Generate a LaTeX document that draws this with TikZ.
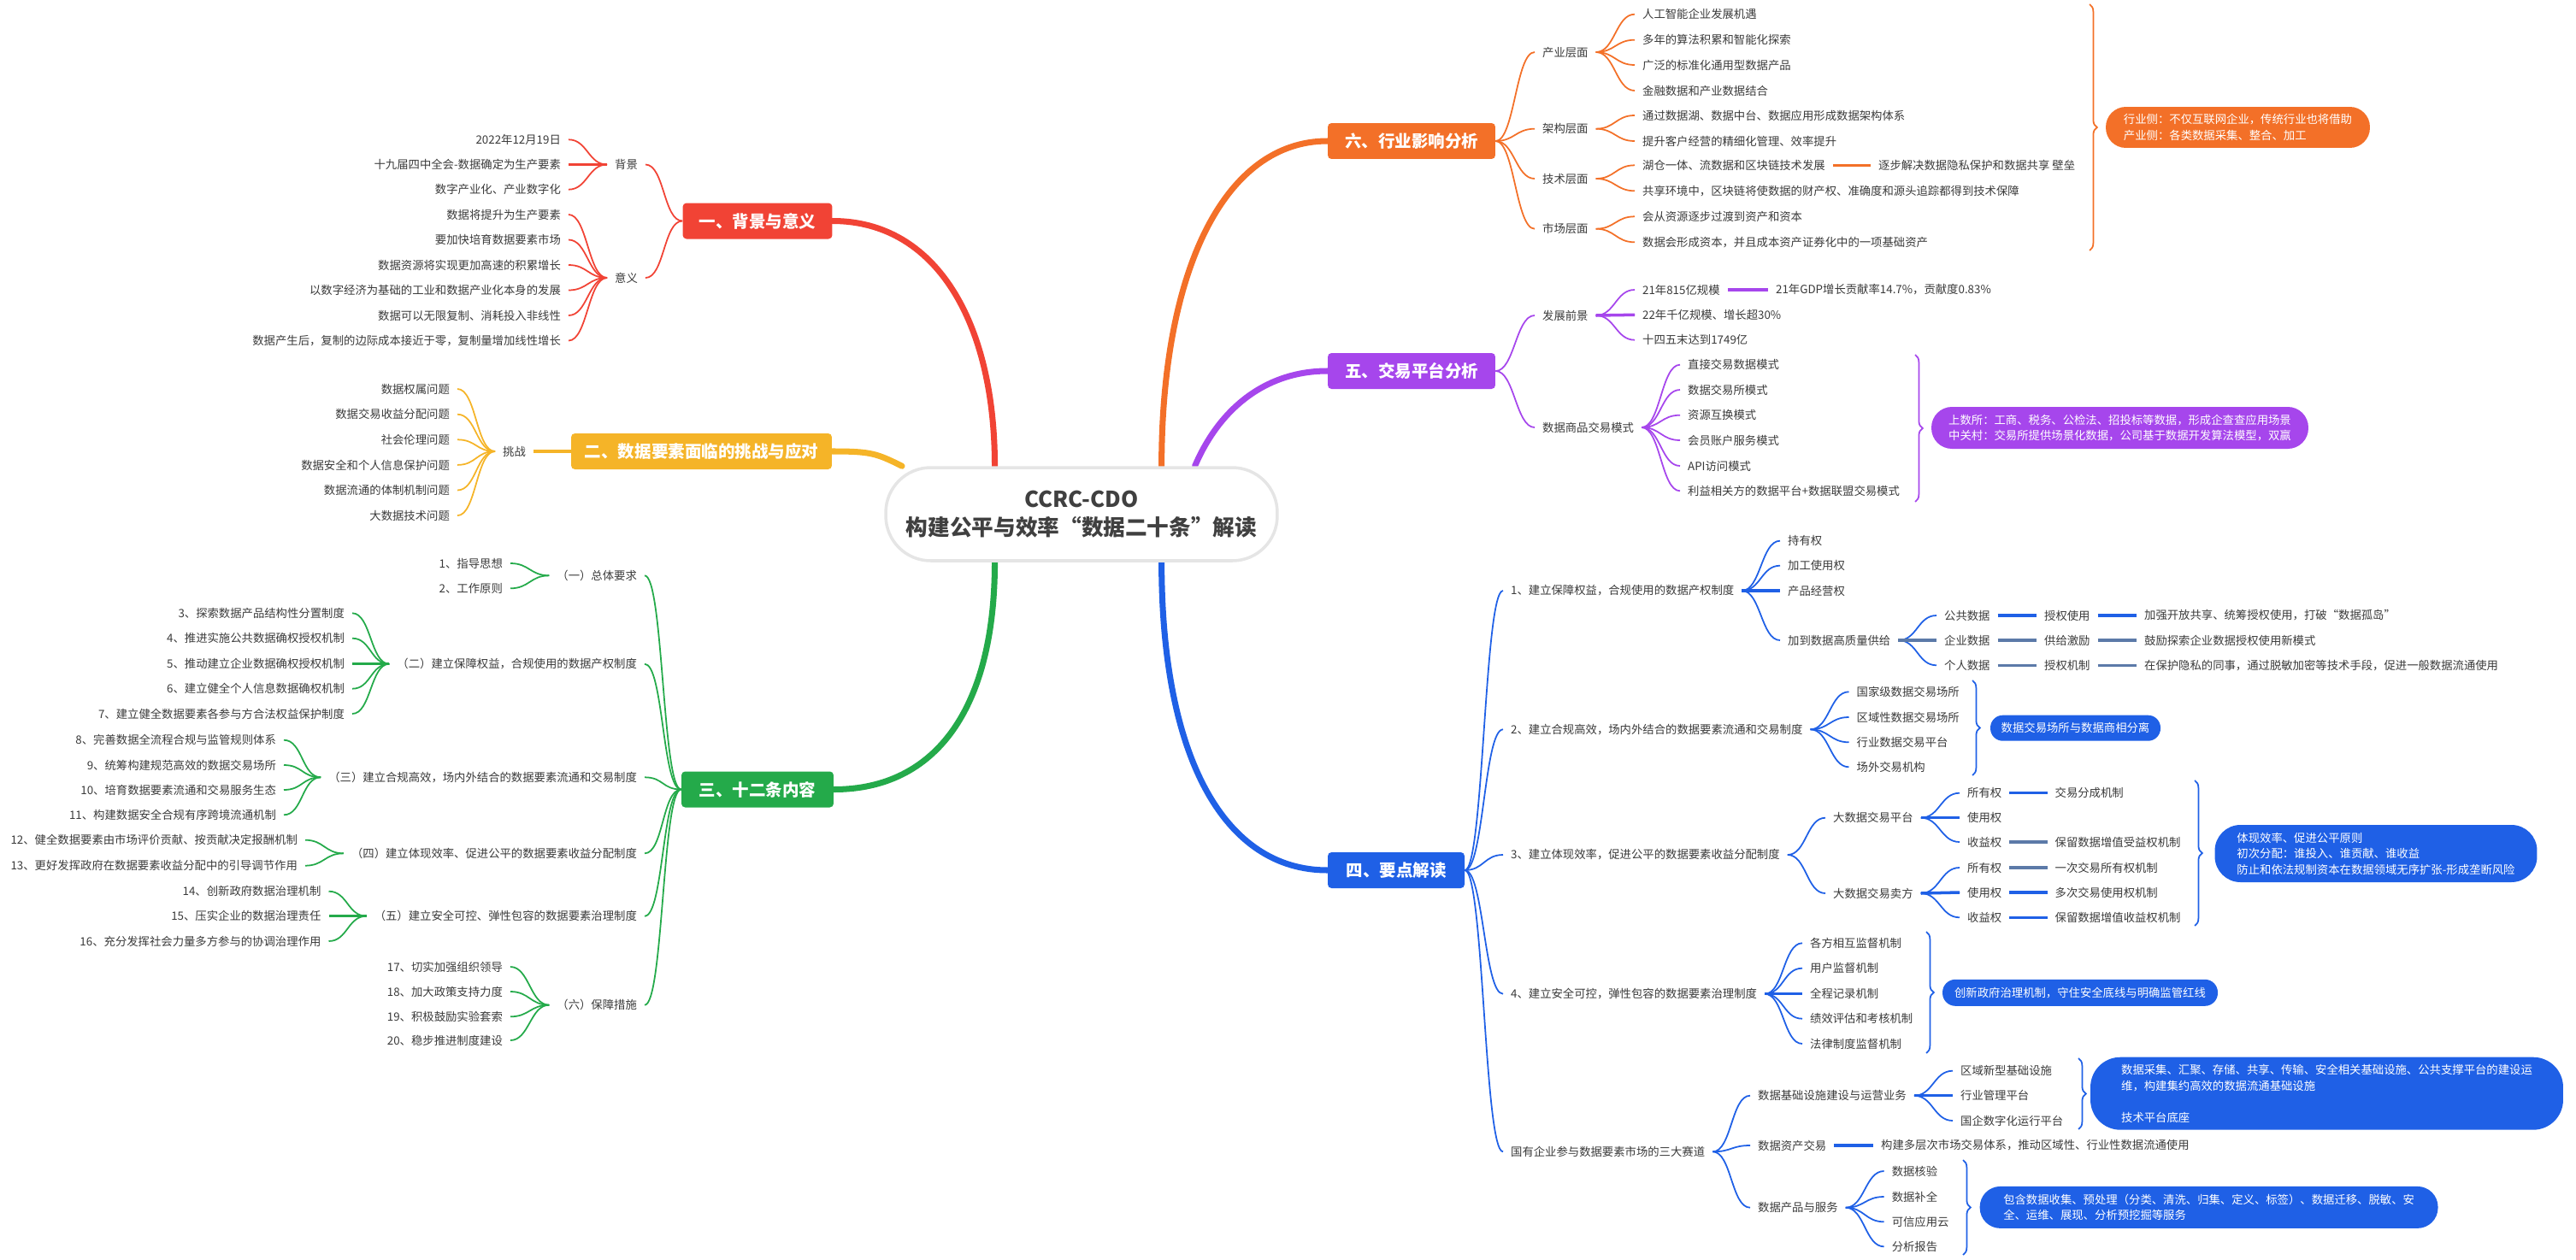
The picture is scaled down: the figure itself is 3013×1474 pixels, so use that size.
\documentclass[tikz,border=0pt]{standalone}
\usepackage{fontspec}
\setmainfont{Noto Sans CJK SC}
\usetikzlibrary{positioning,backgrounds,decorations.pathreplacing}
\definecolor{cRed}{RGB}{241,67,53}
\definecolor{cYel}{RGB}{245,180,40}
\definecolor{cGrn}{RGB}{36,170,74}
\definecolor{cOrg}{RGB}{243,112,40}
\definecolor{cPur}{RGB}{166,70,236}
\definecolor{cBlu}{RGB}{31,96,230}
\definecolor{cSlt}{RGB}{92,122,168}
\definecolor{cTxt}{RGB}{58,58,58}

\begin{document}
\begin{tikzpicture}[x=0.02cm, y=-0.02cm,
    root/.style={draw=black!10, line width=2pt, fill=white, rounded corners=1.05cm, minimum width=9.16cm, minimum height=2.18cm, align=center, text=black!75, font=\fontsize{14.6}{18.8}\selectfont\bfseries},
    topic/.style={rounded corners=2.5pt, minimum height=0.84cm, inner sep=0pt, text=white, font=\fontsize{11.1}{13}\selectfont\bfseries},
    leaf/.style={inner xsep=5pt, inner ysep=2pt, text=cTxt, font=\fontsize{7.6}{10.5}\selectfont},
    note/.style={align=left, inner sep=0pt, text=white, font=\fontsize{7.6}{10.5}\selectfont},
    twig/.style={line width=1pt},
    flat/.style={line width=2pt},
    limb/.style={line width=4pt, line cap=round},
    brc/.style={decorate, decoration={brace, amplitude=5pt}, line width=1pt}
]
\useasboundingbox (0,0) rectangle (3013,1474);

\node[root] (c) at (1265,601.5) {CCRC-CDO\\构建公平与效率“数据二十条”解读};

\node[topic, fill=cRed, minimum width=3.5cm] (t1) at (886,258.5) {一、背景与意义};
\node[leaf, anchor=east] (bj) at (755,192.5) {背景};
\node[leaf, anchor=east] (yy) at (755,325) {意义};
\foreach \n in {bj,yy} \draw[twig, cRed] (t1.west) .. controls +(-22,0) and +(22,0) .. (\n.east);
\foreach \y/\lbl [count=\i] in {163.3/2022年12月19日, 192.5/十九届四中全会-数据确定为生产要素, 221.7/数字产业化、产业数字化}{
  \node[leaf, anchor=east] (bj\i) at (665,\y) {\lbl};
  \draw[twig, cRed] (bj.west) .. controls +(-22,0) and +(22,0) .. (bj\i.east);
}
\draw[flat, cRed] (bj.west) -- (bj2.east);
\foreach \y/\lbl [count=\i] in {251/数据将提升为生产要素, 280.5/要加快培育数据要素市场, 310/数据资源将实现更加高速的积累增长, 339.5/以数字经济为基础的工业和数据产业化本身的发展, 369/数据可以无限复制、消耗投入非线性, 398.5/数据产生后，复制的边际成本接近于零，复制量增加线性增长}{
  \node[leaf, anchor=east] (yy\i) at (665,\y) {\lbl};
  \draw[twig, cRed] (yy.west) .. controls +(-22,0) and +(22,0) .. (yy\i.east);
}

\node[topic, fill=cYel, minimum width=6.1cm] (t2) at (820.5,528) {二、数据要素面临的挑战与应对};
\node[leaf, anchor=east] (tz) at (624,528) {挑战};
\draw[flat, cYel] (t2.west) -- (tz.east);
\foreach \y/\lbl [count=\i] in {455/数据权属问题, 484.7/数据交易收益分配问题, 514.3/社会伦理问题, 543.9/数据安全和个人信息保护问题, 573.5/数据流通的体制机制问题, 603.1/大数据技术问题}{
  \node[leaf, anchor=east] (tz\i) at (535,\y) {\lbl};
  \draw[twig, cYel] (tz.west) .. controls +(-22,0) and +(22,0) .. (tz\i.east);
}

\node[topic, fill=cGrn, minimum width=3.56cm] (t3) at (886,923.5) {三、十二条内容};
\foreach \y/\lbl [count=\i] in {673.3/（一）总体要求, 776.7/（二）建立保障权益，合规使用的数据产权制度, 909.3/（三）建立合规高效，场内外结合的数据要素流通和交易制度, 998.3/（四）建立体现效率、促进公平的数据要素收益分配制度, 1071.7/（五）建立安全可控、弹性包容的数据要素治理制度, 1175.7/（六）保障措施}{
  \node[leaf, anchor=east] (g\i) at (754,\y) {\lbl};
  \draw[twig, cGrn] (t3.west) .. controls +(-22,0) and +(22,0) .. (g\i.east);
}
\foreach \y/\lbl [count=\i] in {659/1、指导思想, 688.3/2、工作原则}{
  \node[leaf, anchor=east] (g1x\i) at (597,\y) {\lbl};
  \draw[twig, cGrn] (g1.west) .. controls +(-22,0) and +(22,0) .. (g1x\i.east);
}
\foreach \y/\lbl [count=\i] in {717.3/3、探索数据产品结构性分置制度, 746.7/4、推进实施公共数据确权授权机制, 776.7/5、推动建立企业数据确权授权机制, 805.7/6、建立健全个人信息数据确权机制, 835/7、建立健全数据要素各参与方合法权益保护制度}{
  \node[leaf, anchor=east] (g2x\i) at (412,\y) {\lbl};
  \draw[twig, cGrn] (g2.west) .. controls +(-22,0) and +(22,0) .. (g2x\i.east);
}
\draw[flat, cGrn] (g2.west) -- (g2x3.east);
\foreach \y/\lbl [count=\i] in {865.7/8、完善数据全流程合规与监管规则体系, 895/9、统筹构建规范高效的数据交易场所, 924/10、培育数据要素流通和交易服务生态, 953.3/11、构建数据安全合规有序跨境流通机制}{
  \node[leaf, anchor=east] (g3x\i) at (332,\y) {\lbl};
  \draw[twig, cGrn] (g3.west) .. controls +(-22,0) and +(22,0) .. (g3x\i.east);
}
\foreach \y/\lbl [count=\i] in {982.7/12、健全数据要素由市场评价贡献、按贡献决定报酬机制, 1012.7/13、更好发挥政府在数据要素收益分配中的引导调节作用}{
  \node[leaf, anchor=east] (g4x\i) at (357,\y) {\lbl};
  \draw[twig, cGrn] (g4.west) .. controls +(-22,0) and +(22,0) .. (g4x\i.east);
}
\foreach \y/\lbl [count=\i] in {1042.7/14、创新政府数据治理机制, 1071.7/15、压实企业的数据治理责任, 1101/16、充分发挥社会力量多方参与的协调治理作用}{
  \node[leaf, anchor=east] (g5x\i) at (384.5,\y) {\lbl};
  \draw[twig, cGrn] (g5.west) .. controls +(-22,0) and +(22,0) .. (g5x\i.east);
}
\draw[flat, cGrn] (g5.west) -- (g5x2.east);
\foreach \y/\lbl [count=\i] in {1131/17、切实加强组织领导, 1160/18、加大政策支持力度, 1189.3/19、积极鼓励实验套索, 1217/20、稳步推进制度建设}{
  \node[leaf, anchor=east] (g6x\i) at (597,\y) {\lbl};
  \draw[twig, cGrn] (g6.west) .. controls +(-22,0) and +(22,0) .. (g6x\i.east);
}

\node[topic, fill=cOrg, minimum width=3.92cm] (t6) at (1651,165) {六、行业影响分析};
\foreach \y/\lbl [count=\i] in {61/产业层面, 150.7/架构层面, 209/技术层面, 267.7/市场层面}{
  \node[leaf, anchor=west] (o\i) at (1795,\y) {\lbl};
  \draw[twig, cOrg] (t6.east) .. controls +(22,0) and +(-22,0) .. (o\i.west);
}
\foreach \y/\lbl [count=\i] in {16.7/人工智能企业发展机遇, 46.7/多年的算法积累和智能化探索, 76/广泛的标准化通用型数据产品, 106/金融数据和产业数据结合}{
  \node[leaf, anchor=west] (o1x\i) at (1912,\y) {\lbl};
  \draw[twig, cOrg] (o1.east) .. controls +(22,0) and +(-22,0) .. (o1x\i.west);
}
\foreach \y/\lbl [count=\i] in {135/通过数据湖、数据中台、数据应用形成数据架构体系, 165/提升客户经营的精细化管理、效率提升}{
  \node[leaf, anchor=west] (o2x\i) at (1912,\y) {\lbl};
  \draw[twig, cOrg] (o2.east) .. controls +(22,0) and +(-22,0) .. (o2x\i.west);
}
\foreach \y/\lbl [count=\i] in {193.3/湖仓一体、流数据和区块链技术发展, 223.3/共享环境中，区块链将使数据的财产权、准确度和源头追踪都得到技术保障}{
  \node[leaf, anchor=west] (o3x\i) at (1912,\y) {\lbl};
  \draw[twig, cOrg] (o3.east) .. controls +(22,0) and +(-22,0) .. (o3x\i.west);
}
\node[leaf, anchor=west] (o3y) at (2188,193.3) {逐步解决数据隐私保护和数据共享 壁垒};
\draw[flat, cOrg] (o3x1.east) -- (o3y.west);
\foreach \y/\lbl [count=\i] in {253.3/会从资源逐步过渡到资产和资本, 283.3/数据会形成资本，并且成本资产证券化中的一项基础资产}{
  \node[leaf, anchor=west] (o4x\i) at (1912,\y) {\lbl};
  \draw[twig, cOrg] (o4.east) .. controls +(22,0) and +(-22,0) .. (o4x\i.west);
}
\draw[brc, cOrg] (2444,5) -- (2444,293);
\node[note, fill=cOrg, rounded corners=0.47cm, minimum width=6.18cm, minimum height=0.96cm] (n6) at (2617.5,149) {行业侧：不仅互联网企业，传统行业也将借助\\产业侧：各类数据采集、整合、加工};

\node[topic, fill=cPur, minimum width=3.92cm] (t5) at (1651,434) {五、交易平台分析};
\foreach \y/\lbl [count=\i] in {369/发展前景, 500/数据商品交易模式}{
  \node[leaf, anchor=west] (p\i) at (1795,\y) {\lbl};
  \draw[twig, cPur] (t5.east) .. controls +(22,0) and +(-22,0) .. (p\i.west);
}
\foreach \y/\lbl [count=\i] in {339/21年815亿规模, 368.3/22年千亿规模、增长超30\%, 397.7/十四五末达到1749亿}{
  \node[leaf, anchor=west] (p1x\i) at (1912,\y) {\lbl};
  \draw[twig, cPur] (p1.east) .. controls +(22,0) and +(-22,0) .. (p1x\i.west);
}
\draw[flat, cPur] (p1.east) -- (p1x2.west);
\node[leaf, anchor=west] (p1y) at (2068,339) {21年GDP增长贡献率14.7\%，贡献度0.83\%};
\draw[flat, cPur] (p1x1.east) -- (p1y.west);
\foreach \y/\lbl [count=\i] in {426.7/直接交易数据模式, 456/数据交易所模式, 485.7/资源互换模式, 515/会员账户服务模式, 545/API访问模式, 574.3/利益相关方的数据平台+数据联盟交易模式}{
  \node[leaf, anchor=west] (p2x\i) at (1965,\y) {\lbl};
  \draw[twig, cPur] (p2.east) .. controls +(22,0) and +(-22,0) .. (p2x\i.west);
}
\draw[brc, cPur] (2240,415) -- (2240,587);
\node[note, fill=cPur, rounded corners=0.48cm, minimum width=8.82cm, minimum height=0.98cm] (n5) at (2479.5,500.5) {上数所：工商、税务、公检法、招投标等数据，形成企查查应用场景\\中关村：交易所提供场景化数据，公司基于数据开发算法模型，双赢};

\node[topic, fill=cBlu, minimum width=3.2cm] (t4) at (1633,1018) {四、要点解读};
\foreach \y/\lbl [count=\i] in {691/1、建立保障权益，合规使用的数据产权制度, 853.3/2、建立合规高效，场内外结合的数据要素流通和交易制度, 1000/3、建立体现效率，促进公平的数据要素收益分配制度, 1162.7/4、建立安全可控，弹性包容的数据要素治理制度, 1347.3/国有企业参与数据要素市场的三大赛道}{
  \node[leaf, anchor=west] (b\i) at (1758,\y) {\lbl};
  \draw[twig, cBlu] (t4.east) .. controls +(22,0) and +(-22,0) .. (b\i.west);
}
\foreach \y/\lbl [count=\i] in {632.7/持有权, 661.7/加工使用权, 691/产品经营权, 749/加到数据高质量供给}{
  \node[leaf, anchor=west] (b1x\i) at (2082,\y) {\lbl};
  \draw[twig, cBlu] (b1.east) .. controls +(22,0) and +(-22,0) .. (b1x\i.west);
}
\draw[flat, cBlu] (b1.east) -- (b1x3.west);
\foreach \y/\cl/\a/\b/\lbl [count=\i] in {720/cBlu/公共数据/授权使用/加强开放共享、统筹授权使用，打破“数据孤岛”, 749/cSlt/企业数据/供给激励/鼓励探索企业数据授权使用新模式, 778.3/cSlt/个人数据/授权机制/在保护隐私的同事，通过脱敏加密等技术手段，促进一般数据流通使用}{
  \node[leaf, anchor=west] (q\i) at (2265,\y) {\a};
  \node[leaf, anchor=west] (r\i) at (2382,\y) {\b};
  \node[leaf, anchor=west] (s\i) at (2499,\y) {\lbl};
  \draw[twig, color=cBlu] (b1x4.east) .. controls +(22,0) and +(-22,0) .. (q\i.west);
  \draw[flat, color=\cl] (q\i.east) -- (r\i.west);
  \draw[flat, color=\cl] (r\i.east) -- (s\i.west);
}
\draw[flat, cSlt] (b1x4.east) -- (q2.west);
\foreach \y/\lbl [count=\i] in {809.3/国家级数据交易场所, 839/区域性数据交易场所, 868.3/行业数据交易平台, 897.3/场外交易机构}{
  \node[leaf, anchor=west] (b2x\i) at (2162.5,\y) {\lbl};
  \draw[twig, cBlu] (b2.east) .. controls +(22,0) and +(-22,0) .. (b2x\i.west);
}
\draw[brc, cBlu] (2307,796) -- (2307,907);
\node[note, fill=cBlu, rounded corners=0.29cm, minimum width=3.98cm, minimum height=0.6cm] (n42) at (2427.5,851.7) {数据交易场所与数据商相分离};
\node[leaf, anchor=west] (b3x1) at (2135,956.7) {大数据交易平台};
\node[leaf, anchor=west] (b3x2) at (2135,1045) {大数据交易卖方};
\foreach \n in {b3x1,b3x2} \draw[twig, cBlu] (b3.east) .. controls +(22,0) and +(-22,0) .. (\n.west);
\foreach \y/\lbl [count=\i] in {927.7/所有权, 956.7/使用权, 985/收益权}{
  \node[leaf, anchor=west] (u\i) at (2292,\y) {\lbl};
  \draw[twig, cBlu] (b3x1.east) .. controls +(22,0) and +(-22,0) .. (u\i.west);
}
\draw[flat, cBlu] (b3x1.east) -- (u2.west);
\node[leaf, anchor=west] (u1m) at (2394.5,927.7) {交易分成机制};
\node[leaf, anchor=west] (u3m) at (2394.5,985) {保留数据增值受益权机制};
\draw[flat, cBlu] (u1.east) -- (u1m.west);
\draw[flat, cSlt] (u3.east) -- (u3m.west);
\foreach \y/\cl/\a/\lbl [count=\i] in {1015/cSlt/所有权/一次交易所有权机制, 1044/cBlu/使用权/多次交易使用权机制, 1073.3/cBlu/收益权/保留数据增值收益权机制}{
  \node[leaf, anchor=west] (v\i) at (2292,\y) {\a};
  \node[leaf, anchor=west] (v\i m) at (2394.5,\y) {\lbl};
  \draw[twig, color=cBlu] (b3x2.east) .. controls +(22,0) and +(-22,0) .. (v\i.west);
  \draw[flat, color=\cl] (v\i.east) -- (v\i m.west);
}
\draw[flat, cBlu] (b3x2.east) -- (v2.west);
\draw[brc, cBlu] (2567,913) -- (2567,1083);
\node[note, fill=cBlu, rounded corners=0.6cm, minimum width=7.54cm, minimum height=1.34cm] (n43) at (2779,998.5) {体现效率、促进公平原则\\初次分配：谁投入、谁贡献、谁收益\\防止和依法规制资本在数据领域无序扩张-形成垄断风险};
\foreach \y/\lbl [count=\i] in {1103.3/各方相互监督机制, 1132.7/用户监督机制, 1162.7/全程记录机制, 1191.7/绩效评估和考核机制, 1221/法律制度监督机制}{
  \node[leaf, anchor=west] (b4x\i) at (2108,\y) {\lbl};
  \draw[twig, cBlu] (b4.east) .. controls +(22,0) and +(-22,0) .. (b4x\i.west);
}
\draw[flat, cBlu] (b4.east) -- (b4x3.west);
\draw[brc, cBlu] (2253,1090) -- (2253,1232);
\node[note, fill=cBlu, rounded corners=0.3cm, minimum width=6.44cm, minimum height=0.62cm] (n44) at (2433,1161.3) {创新政府治理机制，守住安全底线与明确监管红线};
\foreach \y/\lbl [count=\i] in {1281.7/数据基础设施建设与运营业务, 1340/数据资产交易, 1412.7/数据产品与服务}{
  \node[leaf, anchor=west] (b5x\i) at (2047,\y) {\lbl};
  \draw[twig, cBlu] (b5.east) .. controls +(22,0) and +(-22,0) .. (b5x\i.west);
}
\foreach \y/\lbl [count=\i] in {1252.7/区域新型基础设施, 1281.7/行业管理平台, 1311/国企数字化运行平台}{
  \node[leaf, anchor=west] (w\i) at (2284,\y) {\lbl};
  \draw[twig, cBlu] (b5x1.east) .. controls +(22,0) and +(-22,0) .. (w\i.west);
}
\draw[flat, cBlu] (b5x1.east) -- (w2.west);
\draw[brc, cBlu] (2431,1238) -- (2431,1321);
\node[note, fill=cBlu, rounded corners=0.7cm, minimum width=11.06cm, minimum height=1.7cm] (n45) at (2721.5,1279.2) {数据采集、汇聚、存储、共享、传输、安全相关基础设施、公共支撑平台的建设运\\维，构建集约高效的数据流通基础设施\\[10.5pt]技术平台底座};
\node[leaf, anchor=west] (b5y) at (2191,1340) {构建多层次市场交易体系，推动区域性、行业性数据流通使用};
\draw[flat, cBlu] (b5x2.east) -- (b5y.west);
\foreach \y/\lbl [count=\i] in {1370/数据核验, 1400/数据补全, 1429.3/可信应用云, 1458.3/分析报告}{
  \node[leaf, anchor=west] (z\i) at (2203.6,\y) {\lbl};
  \draw[twig, cBlu] (b5x3.east) .. controls +(22,0) and +(-22,0) .. (z\i.west);
}
\draw[brc, cBlu] (2296,1357) -- (2296,1468);
\node[note, fill=cBlu, rounded corners=0.48cm, minimum width=10.72cm, minimum height=0.98cm] (n46) at (2583.6,1412.4) {包含数据收集、预处理（分类、清洗、归集、定义、标签）、数据迁移、脱敏、安\\全、运维、展现、分析预挖掘等服务};

\begin{scope}[on background layer]
\draw[limb, cRed] (c.151) .. controls +(0,-170) and +(120,0) .. (t1.east);
\draw[limb, cYel] (t2.east) .. controls +(45,0) and +(-30,-15) .. (c.165);
\draw[limb, cGrn] (c.209) .. controls +(0,170) and +(120,0) .. (t3.east);
\draw[limb, cOrg] (c.31) .. controls +(0,-230) and +(-120,0) .. (t6.west);
\draw[limb, cPur] (c.23) .. controls +(30,-70) and +(-70,0) .. (t5.west);
\draw[limb, cBlu] (c.329) .. controls +(0,230) and +(-120,0) .. (t4.west);
\end{scope}
\end{tikzpicture}
\end{document}
